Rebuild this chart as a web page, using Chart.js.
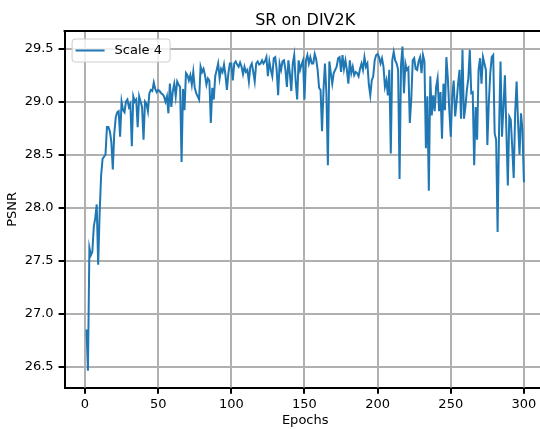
<!DOCTYPE html>
<html>
<head>
<meta charset="utf-8">
<title>SR on DIV2K</title>
<script src="https://cdn.jsdelivr.net/npm/chart.js@4.4.1/dist/chart.umd.min.js"></script>
<style>
  html, body { margin: 0; padding: 0; background: #fff; overflow: hidden; }
  #wrap { width: 540px; height: 429px; overflow: hidden; position: relative; }
  #wrap canvas { position: absolute; left: 0; top: 0; }
</style>
</head>
<body>
<div id="wrap"><canvas id="psnrChart" width="600" height="429"></canvas></div>
<script>
// PSNR per epoch (epochs 1..300)
const psnr = [
    26.85, 26.46, 27.62, 27.55, 27.58, 27.82, 27.90, 28.03, 27.46, 27.95,
    28.30, 28.46, 28.48, 28.50, 28.76, 28.76, 28.72, 28.62, 28.36, 28.70,
    28.85, 28.90, 28.91, 28.67, 29.00, 28.92, 28.90, 29.00, 29.02, 28.95,
    28.98, 28.58, 29.05, 29.00, 29.02, 28.76, 29.05, 29.00, 28.95, 28.64,
    29.00, 28.98, 28.91, 29.08, 29.11, 29.10, 29.18, 29.12, 29.09, 29.11,
    29.10, 29.08, 29.07, 29.05, 29.00, 29.05, 28.89, 29.17, 28.95, 29.10,
    29.17, 29.05, 29.19, 29.16, 29.14, 28.43, 29.12, 28.92, 29.27, 29.25,
    29.20, 29.25, 29.16, 29.28, 29.13, 29.08, 29.05, 29.02, 29.33, 29.28,
    29.31, 29.25, 29.16, 29.22, 29.20, 28.80, 29.13, 29.02, 29.24, 29.30,
    29.36, 29.22, 29.31, 29.28, 29.35, 29.25, 29.11, 29.27, 29.36, 29.36,
    29.20, 29.36, 29.38, 29.35, 29.33, 29.37, 29.33, 29.26, 29.33, 29.28,
    29.30, 29.19, 29.33, 29.36, 29.28, 29.19, 29.36, 29.38, 29.35, 29.36,
    29.39, 29.36, 29.38, 29.42, 29.24, 29.38, 29.30, 29.24, 29.41, 29.42,
    29.30, 29.06, 29.36, 29.30, 29.38, 29.39, 29.30, 29.14, 29.39, 29.27,
    29.10, 29.36, 29.44, 29.19, 29.02, 29.39, 29.30, 29.35, 29.39, 29.02,
    29.39, 29.44, 29.36, 29.42, 29.36, 29.36, 29.45, 29.40, 29.30, 29.13,
    29.11, 28.72, 29.11, 29.36, 29.08, 28.40, 29.38, 29.27, 29.17, 29.27,
    29.30, 29.33, 29.41, 29.42, 29.28, 29.44, 29.31, 29.39, 29.30, 29.17,
    29.39, 29.27, 29.33, 29.25, 29.28, 29.27, 29.24, 29.31, 29.36, 29.30,
    29.42, 29.33, 29.36, 29.16, 29.06, 29.20, 29.24, 29.39, 29.44, 29.45,
    29.42, 29.36, 29.41, 29.33, 29.14, 29.20, 29.06, 29.30, 28.51, 29.39,
    29.47, 29.39, 29.36, 29.30, 28.27, 29.35, 29.52, 29.08, 29.36, 29.30,
    29.32, 28.80, 29.02, 29.39, 29.41, 29.31, 29.30, 29.38, 29.42, 29.27,
    29.44, 29.38, 28.56, 29.05, 28.16, 29.24, 28.87, 29.06, 28.91, 29.14,
    29.22, 28.91, 29.09, 28.65, 29.17, 28.92, 29.42, 29.22, 28.92, 28.67,
    29.05, 29.20, 28.86, 29.00, 29.17, 29.30, 28.84, 29.49, 28.84, 28.95,
    29.11, 29.22, 29.49, 29.08, 29.09, 28.40, 28.95, 28.64, 29.30, 29.41,
    29.17, 29.42, 29.36, 29.30, 28.59, 28.99, 29.27, 29.42, 29.44, 28.70,
    28.64, 27.77, 28.73, 29.38, 28.67, 28.95, 29.25, 28.73, 28.21, 28.86,
    28.83, 28.57, 28.28, 28.89, 29.19, 28.80, 28.50, 28.89, 28.73, 28.24
];
const firstEpoch = 1;
const seriesLabel = "Scale 4";
const xTicks = [0, 50, 100, 150, 200, 250, 300];
const yTicks = [26.5, 27.0, 27.5, 28.0, 28.5, 29.0, 29.5];

const FONT = "'DejaVu Sans', sans-serif";
const BLUE = "#1f77b4";
const GRID = "#b0b0b0";
const NONE = "rgba(0,0,0,0)";
const TICK_LEN = 6;

const points = psnr.map((v, i) => ({ x: firstEpoch + i, y: v }));

// x grid lines + tick marks (only at xTicks), top spine, title and legend box
const decorations = {
    id: "decorations",
    beforeDatasetsDraw(chart) {
        const { ctx, chartArea: a, scales } = chart;
        ctx.save();
        ctx.lineWidth = 2;
        xTicks.forEach(v => {
            const x = Math.round(scales.x.getPixelForValue(v));
            ctx.strokeStyle = GRID;
            ctx.beginPath();
            ctx.moveTo(x, a.top);
            ctx.lineTo(x, a.bottom);
            ctx.stroke();
            ctx.strokeStyle = "#000";
            ctx.beginPath();
            ctx.moveTo(x, a.bottom);
            ctx.lineTo(x, a.bottom + TICK_LEN);
            ctx.stroke();
        });
        ctx.restore();
    },
    afterDatasetsDraw(chart) {
        const { ctx, chartArea: a } = chart;
        ctx.save();
        ctx.strokeStyle = "#000";
        ctx.lineWidth = 2;
        ctx.beginPath();
        ctx.moveTo(a.left - 1, a.top);
        ctx.lineTo(a.right + 1, a.top);
        ctx.stroke();
        ctx.restore();
    },
    afterDraw(chart) {
        const { ctx, chartArea: a } = chart;
        ctx.save();
        ctx.fillStyle = "#000";
        ctx.font = "16px " + FONT;
        ctx.textAlign = "center";
        ctx.textBaseline = "alphabetic";
        // the axes run on past the right edge of the picture
        ctx.fillText("SR on DIV2K", (a.left + a.right) / 2, 25);

        const bx = a.left + 7, by = a.top + 7.5, bw = 98, bh = 23;
        ctx.beginPath();
        ctx.roundRect(bx + 0.5, by + 0.5, bw, bh, 3);
        ctx.fillStyle = "rgba(255,255,255,0.8)";
        ctx.fill();
        ctx.strokeStyle = "#cccccc";
        ctx.lineWidth = 1;
        ctx.stroke();

        const ly = by + bh / 2 + 0.5;
        ctx.beginPath();
        ctx.moveTo(bx + 4, ly);
        ctx.lineTo(bx + 33, ly);
        ctx.strokeStyle = BLUE;
        ctx.lineWidth = 2;
        ctx.stroke();

        ctx.fillStyle = "#000";
        ctx.font = "13px " + FONT;
        ctx.textAlign = "left";
        ctx.textBaseline = "middle";
        ctx.fillText(seriesLabel, bx + 43, ly);
        ctx.restore();
    }
};

const axisFont = { family: FONT, size: 13 };

new Chart("psnrChart", {
    type: "line",
    data: {
        datasets: [
            {
                label: seriesLabel,
                data: points,
                borderColor: BLUE,
                borderWidth: 2,
                pointRadius: 0,
                tension: 0,
                fill: false,
            },
        ]
    },
    options: {
        responsive: false,
        animation: false,
        devicePixelRatio: 1,
        layout: {
            padding: { top: 31, right: 54.2, left: 0, bottom: 0 }
        },
        plugins: {
            legend: { display: false },
            title: { display: false },
            tooltip: { enabled: false }
        },
        scales: {
            x: {
                type: "linear",
                min: -13.95,
                max: 314.95,
                afterBuildTicks: (s) => { s.ticks = xTicks.map(v => ({ value: v })); },
                afterFit: (s) => { s.height = 41.3; },
                grid: {
                    color: NONE,
                    lineWidth: 0,
                    tickColor: NONE,
                    tickWidth: 0,
                    tickLength: TICK_LEN,
                },
                border: { color: "#000", width: 2 },
                ticks: {
                    color: "#000",
                    font: axisFont,
                    padding: 3,
                    maxRotation: 0,
                    autoSkip: false,
                    callback: (v) => String(v),
                },
                title: {
                    display: true,
                    text: "Epochs",
                    color: "#000",
                    font: axisFont,
                    padding: { top: 0, bottom: 1 },
                }
            },
            y: {
                min: 26.30,
                max: 29.667,
                afterBuildTicks: (s) => { s.ticks = yTicks.map(v => ({ value: v })); },
                afterFit: (s) => { s.width = 64.6; },
                grid: {
                    color: GRID,
                    lineWidth: 2,
                    tickColor: "#000",
                    tickWidth: 2,
                    tickLength: TICK_LEN,
                },
                border: { color: "#000", width: 2 },
                ticks: {
                    color: "#000",
                    font: axisFont,
                    padding: 5,
                    autoSkip: false,
                    callback: (v) => v.toFixed(1),
                },
                title: {
                    display: true,
                    text: "PSNR",
                    color: "#000",
                    font: axisFont,
                    padding: { top: 5, bottom: 0 },
                }
            }
        }
    },
    plugins: [decorations]
});
</script>
</body>
</html>
